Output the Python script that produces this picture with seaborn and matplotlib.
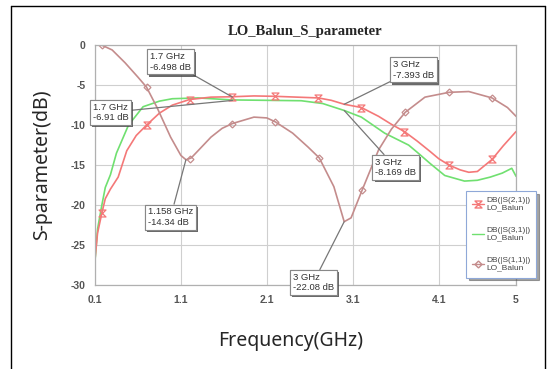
import numpy as np
import matplotlib
matplotlib.use('Agg')
import matplotlib.pyplot as plt
import matplotlib.patheffects as pe
from matplotlib.path import Path
from matplotlib.lines import Line2D
import seaborn as sns

# 데이터
s21_freq = [0.10, 0.13, 0.18, 0.22, 0.28, 0.37, 0.47, 0.58, 0.70, 0.85, 1.00, 1.20, 1.45,
            1.70, 1.95, 2.20, 2.45, 2.70, 2.85, 3.00, 3.20, 3.40, 3.55, 3.70, 3.85, 4.00,
            4.10, 4.22, 4.35, 4.45, 4.55, 4.72, 4.85, 5.00]
s21_db = [-26.8, -23.5, -21.0, -19.2, -18.0, -16.5, -13.2, -11.3, -10.0, -8.5, -7.5, -6.8, -6.5,
          -6.45, -6.35, -6.4, -6.5, -6.6, -6.9, -7.39, -7.8, -8.9, -9.9, -10.8, -12.0, -13.3,
          -14.2, -15.0, -15.6, -15.9, -15.8, -14.3, -12.6, -10.8]
s21_mark_freq = [0.18, 0.70, 1.20, 1.70, 2.20, 2.70, 3.20, 3.70, 4.22, 4.72]
s21_mark_db = [-21.0, -10.0, -6.8, -6.5, -6.4, -6.6, -7.8, -10.8, -15.0, -14.3]

s31_freq = [0.10, 0.13, 0.18, 0.22, 0.28, 0.35, 0.49, 0.66, 0.85, 1.00, 1.30, 1.70, 2.10,
            2.50, 2.75, 3.00, 3.20, 3.47, 3.75, 3.85, 4.00, 4.17, 4.40, 4.55, 4.70, 4.84,
            4.95, 5.00]
s31_db = [-27.0, -23.0, -20.0, -17.8, -16.2, -13.5, -10.0, -7.7, -7.0, -6.7, -6.6, -6.85, -6.9,
          -6.95, -7.3, -8.17, -9.0, -11.0, -12.5, -13.4, -14.8, -16.3, -17.0, -16.9, -16.5, -16.0,
          -15.4, -16.4]

s11_freq = [0.10, 0.18, 0.30, 0.45, 0.60, 0.70, 0.82, 0.98, 1.10, 1.16, 1.22, 1.30, 1.45,
            1.58, 1.70, 1.95, 2.10, 2.20, 2.40, 2.58, 2.71, 2.88, 3.00, 3.08, 3.21, 3.40,
            3.55, 3.71, 3.94, 4.22, 4.45, 4.72, 4.90, 5.00]
s11_db = [0.0, 0.0, -0.6, -2.2, -4.0, -5.25, -7.75, -11.5, -13.8, -14.34, -14.1, -13.2, -11.5,
          -10.4, -9.8, -9.0, -9.1, -9.6, -11.0, -12.75, -14.1, -17.7, -22.08, -21.6, -18.1, -13.1,
          -10.5, -8.4, -6.5, -5.9, -5.8, -6.6, -7.8, -8.9]
s11_mark_freq = [0.18, 0.70, 1.20, 1.70, 2.20, 2.71, 3.21, 3.71, 4.22, 4.72]
s11_mark_db = [0.0, -5.25, -14.2, -9.8, -9.6, -14.1, -18.1, -8.4, -5.9, -6.6]

# 마커 지점 (주파수, dB)
marker_pts = [(1.7, -6.498), (1.7, -6.91), (3.0, -7.393), (3.0, -8.169), (1.158, -14.34), (3.0, -22.08)]
marker_txt = ['1.7 GHz\n-6.498 dB', '1.7 GHz\n-6.91 dB', '3 GHz\n-7.393 dB',
              '3 GHz\n-8.169 dB', '1.158 GHz\n-14.34 dB', '3 GHz\n-22.08 dB']
marker_txt_pos = [(0.98, -2.1), (0.28, -8.4), (3.81, -3.1), (3.6, -15.3), (0.98, -21.5), (2.64, -29.7)]

legend_labels = ['DB(|S(2,1)|)\nLO_Balun', 'DB(|S(3,1)|)\nLO_Balun', 'DB(|S(1,1)|)\nLO_Balun']

red = '#f47878'
green = '#70e070'
mauve = '#c48c8c'

sns.set_style('white')
plt.rcParams['font.family'] = ['Liberation Sans', 'DejaVu Sans']
plt.rcParams['axes.unicode_minus'] = False

fig = plt.figure(figsize=(5.49, 3.69), dpi=100)
ax = fig.add_axes([0.173, 0.2276, 0.767, 0.650])

# 모래시계 모양 마커
hourglass = Path([(-1, 1), (1, 1), (-1, -1), (1, -1), (-1, 1)],
                 [Path.MOVETO, Path.LINETO, Path.LINETO, Path.LINETO, Path.CLOSEPOLY])

sns.lineplot(x=s31_freq, y=s31_db, ax=ax, color=green, lw=1.2, sort=False)
sns.lineplot(x=s21_freq, y=s21_db, ax=ax, color=red, lw=1.2, sort=False)
sns.lineplot(x=s11_freq, y=s11_db, ax=ax, color=mauve, lw=1.2, sort=False)
ax.plot(s21_mark_freq, s21_mark_db, ls='', marker=hourglass, ms=5, mfc='none', mec=red, mew=0.9)
ax.plot(s11_mark_freq, s11_mark_db, ls='', marker='D', ms=3.5, mfc='none', mec=mauve, mew=0.9)

ax.set_xlim(0.1, 5)
ax.set_ylim(-30, 0)
ax.set_xticks([0.1, 1.1, 2.1, 3.1, 4.1, 5])
ax.set_xticklabels(['0.1', '1.1', '2.1', '3.1', '4.1', '5'])
ax.set_yticks([0, -5, -10, -15, -20, -25, -30])
ax.tick_params(length=0, labelsize=7.5, labelcolor='#555555', pad=7)
for lab in ax.get_xticklabels() + ax.get_yticklabels():
    lab.set_fontweight('bold')
ax.grid(True, color='#cfcfcf', lw=0.8)
for sp in ax.spines.values():
    sp.set_color('#b0b0b0')
    sp.set_linewidth(0.9)
ax.set_xlabel('')
ax.set_ylabel('')
ax.set_title('LO_Balun_S_parameter', fontsize=10.5, fontweight='bold',
             family=['Liberation Serif', 'DejaVu Serif'], pad=7)

# 마커 주석
for (px, py), txt, (tx, ty) in zip(marker_pts, marker_txt, marker_txt_pos):
    an = ax.annotate(txt, xy=(px, py), xytext=(tx, ty), ha='center', va='center',
                     multialignment='left', fontsize=6.8, color='#333333', annotation_clip=False,
                     bbox=dict(boxstyle='square,pad=0.3', fc='white', ec='#888888', lw=0.8),
                     arrowprops=dict(arrowstyle='-', color='#777777', lw=0.9, shrinkA=0, shrinkB=0))
    an.get_bbox_patch().set_path_effects([pe.withSimplePatchShadow(offset=(1.5, -1.5), shadow_rgbFace='#444444', alpha=0.8), pe.Normal()])

handles = [Line2D([], [], color=red, lw=1.0, marker=hourglass, ms=5, mfc='none', mec=red),
           Line2D([], [], color=green, lw=1.0),
           Line2D([], [], color=mauve, lw=1.0, marker='D', ms=3.5, mfc='none', mec=mauve)]
leg = ax.legend(handles, legend_labels, loc='upper left', bbox_to_anchor=(0.872, 0.41),
                fontsize=6, handlelength=1.4, handletextpad=0.3, labelspacing=1.8,
                borderpad=0.7, frameon=True, fancybox=False, shadow=True)
leg.get_frame().set_edgecolor('#8fa8d8')
leg.get_frame().set_linewidth(0.8)
for t in leg.get_texts():
    t.set_color('#444444')

# 축 제목
fig.text(0.077, 0.553, 'S-parameter(dB)', rotation=90, ha='center', va='center',
         fontsize=14, family=['Noto Sans', 'DejaVu Sans'])
fig.text(0.53, 0.075, 'Frequency(GHz)', ha='center', va='center',
         fontsize=14, family=['Noto Sans', 'DejaVu Sans'])

# 바깥 테두리
fig.add_artist(Line2D([0.02, 0.02], [0.0, 0.984], color='black', lw=1.0))
fig.add_artist(Line2D([0.02, 0.993], [0.984, 0.984], color='black', lw=1.0))
fig.add_artist(Line2D([0.993, 0.993], [0.0, 0.984], color='black', lw=1.0))

fig.savefig('out.png', dpi=100)
